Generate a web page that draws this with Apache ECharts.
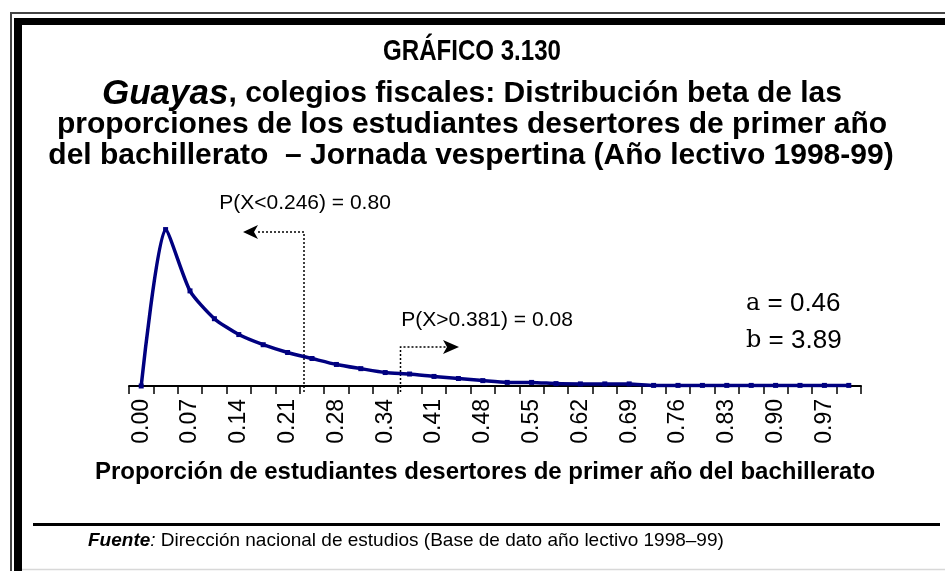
<!DOCTYPE html>
<html>
<head>
<meta charset="utf-8">
<script src="https://cdn.jsdelivr.net/npm/echarts@6/dist/echarts.min.js"></script>
<style>
  html, body { margin: 0; padding: 0; background: #fff; }
  #chart { width: 945px; height: 571px; }
</style>
</head>
<body>
<div id="chart"></div>
<script>
// categorias del eje X (k/29)
const categories = ['0.00','0.03','0.07','0.10','0.14','0.17','0.21','0.24','0.28','0.31',
  '0.34','0.38','0.41','0.45','0.48','0.52','0.55','0.59','0.62','0.66',
  '0.69','0.72','0.76','0.79','0.83','0.86','0.90','0.93','0.97','1.00'];

// densidad beta
const density = [0, 5.23, 3.18, 2.25, 1.72, 1.38, 1.12, 0.92, 0.72, 0.58,
  0.45, 0.40, 0.32, 0.25, 0.18, 0.12, 0.12, 0.08, 0.07, 0.07,
  0.07, 0.02, 0.02, 0.02, 0.02, 0.02, 0.02, 0.02, 0.02, 0.02];

const titleLines = [
  'GRÁFICO 3.130',
  'Guayas',
  ', colegios fiscales: Distribución beta de las',
  'proporciones de los estudiantes desertores de primer año',
  'del bachillerato  – Jornada vespertina (Año lectivo 1998-99)'
];
const notes = ['P(X<0.246) = 0.80', 'P(X>0.381) = 0.08'];
const params = ['0.46', '3.89'];
const xName = 'Proporción de estudiantes desertores de primer año del bachillerato';

const FF = '"Liberation Sans", Arial, sans-serif';
const dot = [2, 2];

var myChart = echarts.init(document.getElementById('chart'));

function txt(x, y, text, font, align, extra) {
  return Object.assign({
    type: 'text', x: x, y: y, silent: true,
    style: { text: text, font: font, fill: '#000', align: align, textAlign: align,
      verticalAlign: 'middle', textVerticalAlign: 'middle' }
  }, extra || {});
}

let graphic = [
  // marcos
  { type: 'line', shape: { x1: 11, y1: 13, x2: 11, y2: 571 }, style: { stroke: '#444', lineWidth: 2 } },
  { type: 'line', shape: { x1: 10, y1: 13, x2: 945, y2: 13 }, style: { stroke: '#444', lineWidth: 2 } },
  { type: 'rect', shape: { x: 14, y: 18, width: 8, height: 553 }, style: { fill: '#000' } },
  { type: 'rect', shape: { x: 14, y: 18, width: 931, height: 7 }, style: { fill: '#000' } },
  { type: 'line', shape: { x1: 22, y1: 569.5, x2: 945, y2: 569.5 }, style: { stroke: '#d8d8d8', lineWidth: 1.5 } },
  { type: 'line', shape: { x1: 33, y1: 524.5, x2: 940, y2: 524.5 }, style: { stroke: '#000', lineWidth: 3 } },

  // titulo
  txt(472, 52, titleLines[0], 'bold 28px ' + FF, 'center', { scaleX: 0.86, scaleY: 1.08 }),
  {
    type: 'text', x: 472, y: 94, silent: true,
    style: {
      text: '{g|' + titleLines[1] + '}{r|' + titleLines[2] + '}',
      align: 'center', textAlign: 'center', verticalAlign: 'middle', textVerticalAlign: 'middle',
      rich: {
        g: { fontFamily: FF, fontSize: 35, fontWeight: 'bold', fontStyle: 'italic', fill: '#000', color: '#000' },
        r: { fontFamily: FF, fontSize: 30, fontWeight: 'bold', fill: '#000', color: '#000' }
      }
    }
  },
  txt(472, 125, titleLines[3], 'bold 30px ' + FF, 'center'),
  txt(471, 156, titleLines[4], 'bold 30px ' + FF, 'center'),

  // anotaciones
  txt(305, 203, notes[0], '21px ' + FF, 'center'),
  { type: 'polyline', shape: { points: [[304, 392], [304, 232], [256, 232]] }, style: { stroke: '#000', lineWidth: 1.5, lineDash: dot, fill: null } },
  { type: 'polygon', shape: { points: [[243, 232], [258, 225], [254, 232], [258, 239]] }, style: { fill: '#000' } },
  txt(487, 320, notes[1], '21px ' + FF, 'center'),
  { type: 'polyline', shape: { points: [[400.5, 392], [400.5, 347], [446, 347]] }, style: { stroke: '#000', lineWidth: 1.5, lineDash: dot, fill: null } },
  { type: 'polygon', shape: { points: [[459, 347], [443, 340], [447, 347], [443, 354]] }, style: { fill: '#000' } },

  // parametros
  {
    type: 'text', x: 746, y: 285, silent: true,
    style: {
      text: '{s|a}{n| = ' + params[0] + '}\n{s|b}{n| = ' + params[1] + '}',
      align: 'left', textAlign: 'left', verticalAlign: 'top', textVerticalAlign: 'top',
      rich: {
        s: { fontFamily: '"DejaVu Serif", serif', fontSize: 24, fill: '#000', color: '#000', lineHeight: 37 },
        n: { fontFamily: FF, fontSize: 26, fill: '#000', color: '#000', lineHeight: 37 }
      }
    }
  },

  // fuente
  {
    type: 'text', x: 88, y: 541, silent: true,
    style: {
      text: '{b|Fuente}{i|:}{r| Dirección nacional de estudios (Base de dato año lectivo 1998–99)}',
      align: 'left', textAlign: 'left', verticalAlign: 'middle', textVerticalAlign: 'middle',
      rich: {
        b: { fontFamily: FF, fontSize: 19, fontWeight: 'bold', fontStyle: 'italic', fill: '#000', color: '#000' },
        i: { fontFamily: FF, fontSize: 19, fontStyle: 'italic', fill: '#000', color: '#000' },
        r: { fontFamily: FF, fontSize: 19, fill: '#000', color: '#000' }
      }
    }
  }
];

let option = {
  backgroundColor: '#fff',
  animation: false,
  grid: { left: 129, right: 84, top: 220, bottom: 185, containLabel: false },
  xAxis: {
    type: 'category',
    data: categories,
    boundaryGap: true,
    axisLine: { show: true, lineStyle: { color: '#000', width: 2 } },
    axisTick: { show: true, interval: 0, length: 8, lineStyle: { color: '#000', width: 1.5 } },
    axisLabel: {
      interval: 1, rotate: 90, margin: 13,
      color: '#000', fontFamily: FF, fontSize: 23
    },
    name: xName,
    nameLocation: 'middle',
    nameGap: 74,
    nameTextStyle: { color: '#000', fontFamily: FF, fontSize: 24, fontWeight: 'bold', padding: [0, 20, 0, 0] }
  },
  yAxis: {
    type: 'value', min: 0, max: 5.55,
    show: false
  },
  series: [{
    type: 'line',
    data: density,
    smooth: 0.22,
    symbol: 'rect',
    symbolSize: 5,
    showAllSymbol: true,
    lineStyle: { color: '#000080', width: 3.5 },
    itemStyle: { color: '#000080' }
  }],
  graphic: graphic
};

myChart.setOption(option);
</script>
</body>
</html>
